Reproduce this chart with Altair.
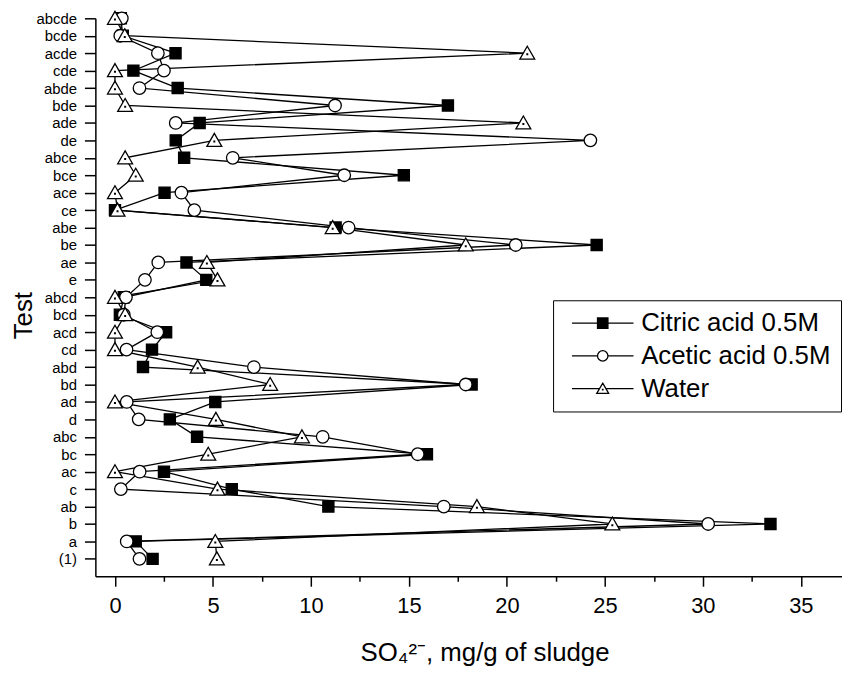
import json
import altair as alt
import pandas as pd

# Test labels, bottom to top
tests = ["(1)", "a", "b", "ab", "c", "ac", "bc", "abc", "d", "ad", "bd", "abd",
         "cd", "acd", "bcd", "abcd", "e", "ae", "be", "abe", "ce", "ace", "bce",
         "abce", "de", "ade", "bde", "abde", "cde", "acde", "bcde", "abcde"]

citric = [1.92, 1.06, 33.45, 10.89, 5.96, 2.5, 15.92, 4.19, 2.8, 5.12, 18.2, 1.43,
          1.89, 2.61, 0.25, 0.45, 4.66, 3.65, 24.58, 11.26, 0.0, 2.53, 14.74,
          3.53, 3.1, 4.32, 16.99, 3.2, 0.94, 3.09, 0.4, 0.3]
acetic = [1.25, 0.6, 30.27, 16.78, 0.3, 1.26, 15.45, 10.6, 1.21, 0.6, 17.9, 7.09,
          0.59, 2.16, 0.45, 0.56, 1.53, 2.21, 20.45, 11.92, 4.05, 3.39, 11.7,
          6.01, 24.26, 3.1, 11.23, 1.25, 2.5, 2.19, 0.27, 0.35]
water = [5.2, 5.12, 25.38, 18.47, 5.23, 0.0, 4.76, 9.54, 5.15, 0.0, 7.92, 4.22,
         0.0, 0.0, 0.52, 0.0, 5.23, 4.69, 17.9, 11.11, 0.13, 0.0, 1.06,
         0.52, 5.07, 20.84, 0.52, 0.0, 0.0, 21.04, 0.5, 0.0]

series_names = ["Citric acid 0.5M", "Acetic acid 0.5M", "Water"]
series_fill = ["black", "white", "white"]
series_stroke = ["black", "black", "black"]
x_tick_values = [0, 2.5, 5, 7.5, 10, 12.5, 15, 17.5, 20, 22.5, 25, 27.5, 30, 32.5, 35]

rows = []
for name, vals in zip(series_names, [citric, acetic, water]):
    for i, (t, v) in enumerate(zip(tests, vals)):
        rows.append({"series": name, "test": t, "idx": i + 1, "value": v})
df = pd.DataFrame(rows)

# marker shapes (custom paths in [-1,1] units)
sq = "M-0.8,-0.8H0.8V0.8H-0.8Z"
circ = "M-0.9,0A0.9,0.9,0,1,0,0.9,0A0.9,0.9,0,1,0,-0.9,0Z"
tri = "M0,-1L1.07,0.86L-1.07,0.86Z M-0.05,0.12H0.05V0.22H-0.05Z"

# legend symbols: marker with line stubs on both sides
sqL = "M-6.2,0H-1.05M1.05,0H6.2M-1.05,-1.05H1.05V1.05H-1.05Z"
circL = "M-6.2,0H-1.05M1.05,0H6.2M-1.05,0A1.05,1.05,0,1,0,1.05,0A1.05,1.05,0,1,0,-1.05,0Z"
triL = "M-6.2,0H-0.75M0.75,0H6.2M0,-1.1L1.2,0.95L-1.2,0.95Z M-0.05,0.15H0.05V0.25H-0.05Z"

FONT = "Liberation Sans"

x_enc = alt.X(
    "value:Q",
    scale=alt.Scale(domain=[-1, 37.1], nice=False, zero=False),
    axis=alt.Axis(
        values=x_tick_values,
        labelExpr="datum.value % 5 === 0 ? datum.label : ''",
        tickSize={"condition": {"test": "datum.value % 5 === 0", "value": 10}, "value": 5},
        labelFontSize=22,
        labelPadding=9,
        labelFlush=False,
        labelOverlap=False,
        grid=False,
        title="SO₄²⁻, mg/g of sludge",
        titleFontSize=26,
        titleFontWeight="normal",
        titleX=392,
        titleY=85,
        titleAlign="center",
        titleBaseline="alphabetic",
    ),
)
y_enc = alt.Y(
    "idx:Q",
    scale=alt.Scale(domain=[0, 32], nice=False, zero=False),
    axis=alt.Axis(
        values=list(range(1, 33)),
        labelExpr=json.dumps(tests) + "[datum.value - 1]",
        tickSize=11,
        labelPadding=8,
        labelFontSize=15,
        labelOverlap=False,
        labelFlush=False,
        grid=False,
        title="Test",
        titleFontSize=26,
        titleFontWeight="normal",
        titleAngle=270,
        titleX=-64,
        titleY=299,
        titleAlign="center",
        titleBaseline="alphabetic",
    ),
)

lines = alt.Chart(df).mark_line(color="black", strokeWidth=1.3).encode(
    x=x_enc, y=y_enc, detail="series:N", order="idx:Q"
)

points = alt.Chart(df).mark_point(
    filled=True, size=196, stroke="black", strokeWidth=1.3, opacity=1
).encode(
    x=x_enc,
    y=y_enc,
    shape=alt.Shape("series:N", scale=alt.Scale(domain=series_names, range=[sq, circ, tri]), legend=None),
    fill=alt.Fill("series:N", scale=alt.Scale(domain=series_names, range=series_fill), legend=None),
)

leg = alt.Legend(
    orient="none", legendX=461, legendY=284,
    symbolSize=100, symbolOffset=27, labelOffset=25.7, labelLimit=0,
    labelFontSize=26, labelFont=FONT, labelColor="black",
    padding=10, rowPadding=7,
    strokeColor="black", fillColor="white",
    symbolStrokeColor="black", symbolStrokeWidth=1.3,
)

legend_layer = alt.Chart(df).transform_filter("false").mark_point(
    filled=True, size=100, strokeWidth=1.3, opacity=1
).encode(
    x=x_enc,
    y=y_enc,
    shape=alt.Shape("series:N", title=None, scale=alt.Scale(domain=series_names, range=[sqL, circL, triL]), legend=leg),
    fill=alt.Fill("series:N", title=None, scale=alt.Scale(domain=series_names, range=series_fill), legend=leg),
    stroke=alt.Stroke("series:N", title=None, scale=alt.Scale(domain=series_names, range=series_stroke), legend=leg),
)

chart = alt.layer(lines, points, legend_layer).resolve_scale(
    shape="independent", fill="independent", stroke="independent"
).properties(
    width=752, height=562,
    autosize=alt.AutoSizeParams(type="none"),
    padding={"left": 88, "top": 8, "right": 0, "bottom": 92},
    background="white",
).configure(font=FONT).configure_view(stroke=None).configure_axis(
    domainColor="black", domainWidth=1.5, tickColor="black", tickWidth=1.5,
    labelColor="black", titleColor="black", labelFont=FONT, titleFont=FONT,
)

chart.save("out.html", embed_options={"renderer": "svg", "actions": False})
